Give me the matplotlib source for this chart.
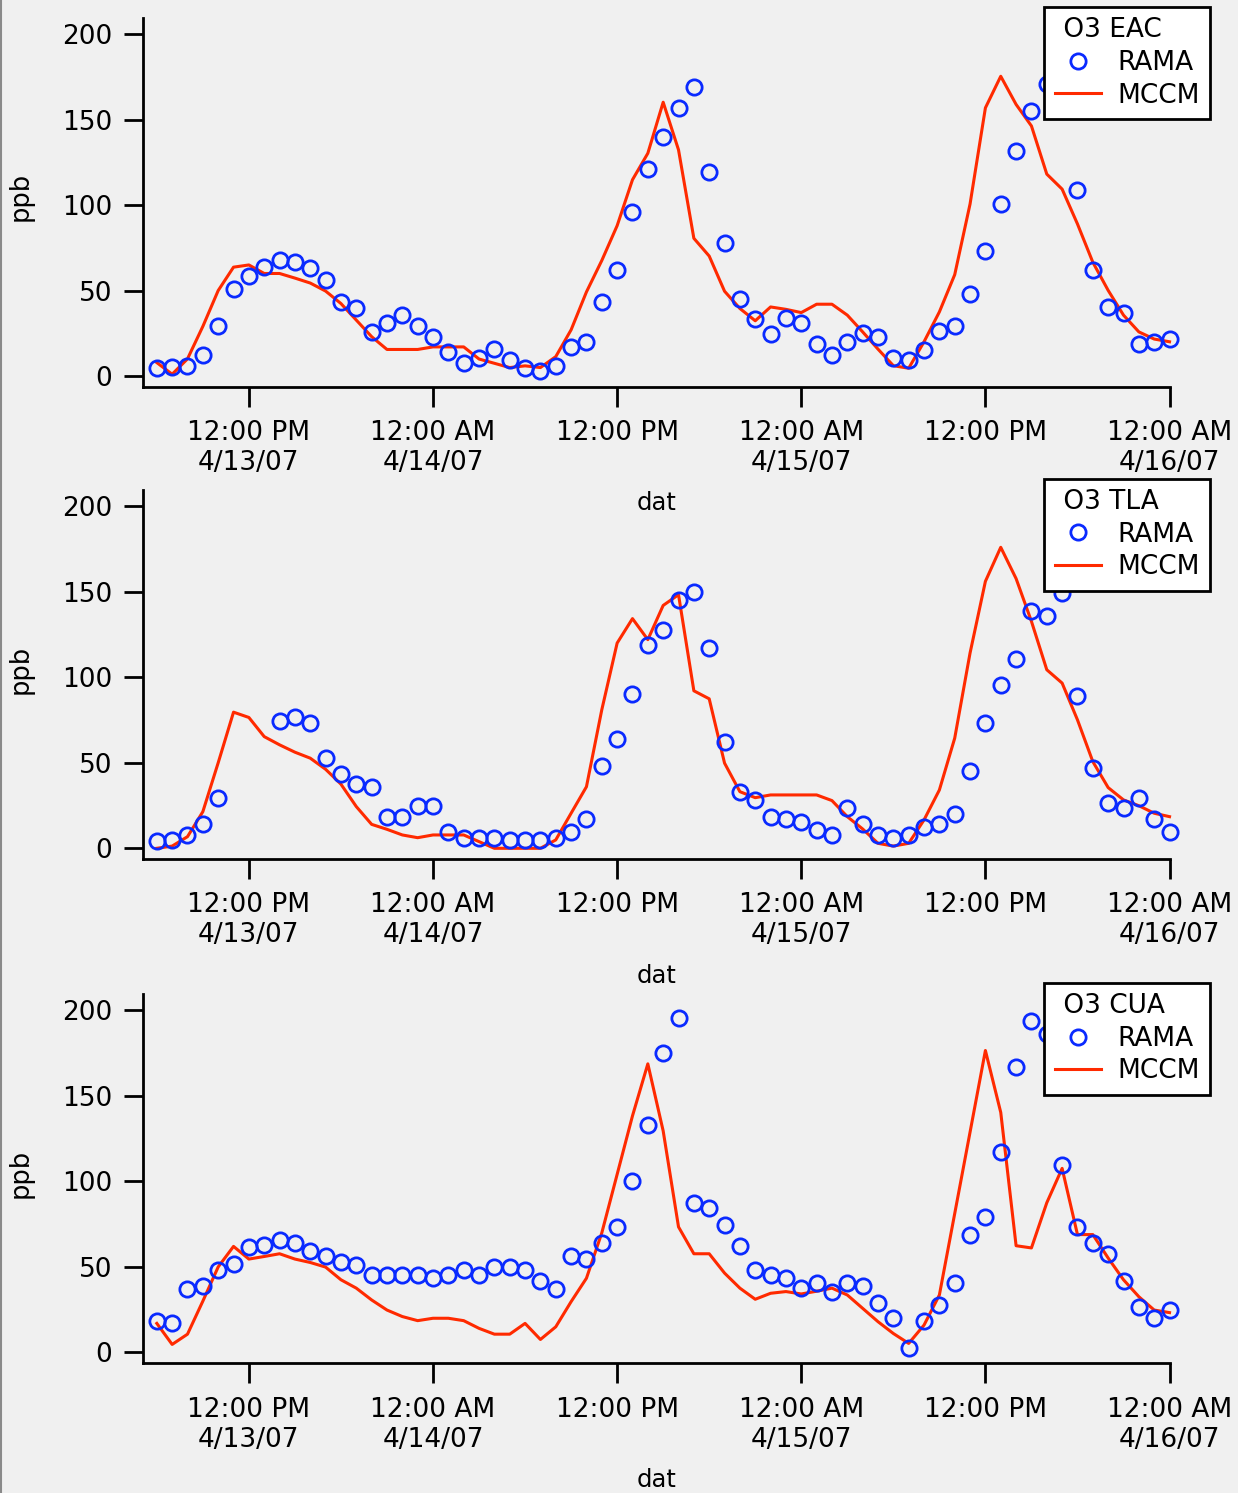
import matplotlib
matplotlib.use('Agg')
import matplotlib.pyplot as plt
import numpy as np
import pandas as pd
from matplotlib.lines import Line2D

# ---------------- data (hourly, 4/13/07 06:00 -> 4/16/07 00:00) ----------------
times = pd.date_range('2007-04-13 06:00', periods=67, freq='h')

eac_rama = [4.5, 5, 6, 12, 29, 51, 58.5, 64, 68, 66.7, 63.5, 56, 43.5, 40, 26, 31, 35.4, 29.3,
            22.9, 13.8, 7.8, 10.3, 15.5, 9.3, 4.9, 3.1, 6, 16.7, 20, 43.3, 62, 96.2, 121, 139.8,
            156.9, 169.3, 119.5, 77.6, 44.9, 33.6, 24.7, 34, 31, 18.6, 12.2, 20, 24.9, 22.9,
            10.7, 9.3, 15.3, 26.2, 29.3, 48, 73, 100.9, 132, 155.3, 170.7, 185, 108.6, 62,
            40.6, 37.1, 18.5, 20, 21.6]
eac_mccm = [7.8, 1, 10, 29, 50, 63.7, 65, 60, 60, 57.3, 54.4, 49.7, 42.4, 32.7, 23, 15.5, 15.5,
            15.5, 17, 17, 17, 9.9, 7.4, 4.9, 5.9, 4.9, 11.3, 27, 49.2, 67.6, 88, 114.9, 130.4,
            160.3, 132.4, 80.6, 70.2, 49.6, 39.5, 32.3, 40.4, 39, 37.1, 42, 42, 35.6, 25.8,
            15.7, 6, 4.5, 20, 37.5, 59.3, 100.7, 157, 175.5, 159, 146.4, 118.2, 109.4, 89,
            66.6, 50.1, 35.6, 25.8, 21.6, 20]

tla_rama = [4.5, 4.9, 7.8, 14, 29.6, np.nan, np.nan, np.nan, 74.7, 76.5, 73.2, 52.7, 43.5,
            37.5, 35.9, 18.3, 18.5, 25, 25, 9.4, 5.9, 6.2, 6.2, 4.9, 4.9, 4.9, 6.2, 9.4, 17.2,
            48.4, 64, 90.5, 118.6, 127.8, 145.2, 149.9, 117.1, 62.4, 32.8, 28.1, 18.5, 17.2,
            15.6, 10.9, 7.8, 23.4, 14, 7.8, 6.2, 7.8, 12.5, 14, 20.3, 45.3, 73.4, 95.2, 110.8,
            138.9, 135.8, 149.3, 89, 46.8, 26.5, 23.4, 29.6, 17.2, 9.4]
tla_mccm = [0, 1.3, 6.8, 21.4, 50, 79.6, 76.5, 65.3, 60.5, 56.2, 52.7, 46.2, 37.5, 24.4, 14,
            11.1, 7.8, 6.2, 7.8, 7.8, 7.8, 3.9, 0, 0, 0, 0, 4.9, 20.5, 36, 81, 120, 134.3, 122,
            142, 148.3, 92.1, 87.4, 49.8, 33.1, 29.6, 31.2, 31.2, 31.2, 31.2, 27.9, 18.5, 11.3,
            2.9, 1.3, 2.9, 16.6, 34.1, 64.4, 114.2, 156.1, 176, 157.7, 132.7, 104.4, 96.6,
            75.1, 50.7, 35.5, 28.3, 24.9, 20.5, 18.5]

cua_rama = [18.6, 17, 37.2, 38.9, 48.3, 51.7, 61.4, 62.6, 65.5, 64, 59.5, 56.1, 52.6, 51.3,
            45.4, 45, 45, 45, 43.4, 45.4, 48.3, 45, 49.9, 49.9, 48.3, 41.9, 37.2, 56.1, 54.6,
            64, 73.4, 100, 132.9, 175.2, 195.5, 87.5, 84.3, 74.8, 62.4, 48.3, 45, 43.8, 37.6,
            40.5, 35.2, 40.5, 38.9, 29.1, 20, 2.7, 18.6, 27.8, 40.5, 68.5, 79.4, 117.4, 167.1,
            193.8, 186.3, 109.6, 73.4, 64, 57.7, 42, 26.4, 20, 24.8]
cua_mccm = [17, 4.7, 10.7, 30, 50, 62, 54.6, 56.1, 57.7, 54.6, 52.6, 49.9, 42.5, 37.6, 30.7,
            24.8, 21, 18.6, 20, 20, 18.6, 14.1, 10.7, 10.7, 17, 7.6, 15, 29.7, 43.4, 69.9,
            104.1, 138.3, 168.7, 129.5, 73.4, 57.7, 57.7, 46.4, 37.6, 31.1, 34.6, 35.6, 34.2,
            35.8, 37.6, 33.6, 25.8, 18, 11.1, 5.3, 16, 33.6, 81.2, 128.8, 176.5, 140.3, 62.4,
            61.1, 87.5, 107.6, 68.9, 68.9, 55.2, 42.5, 32.6, 24.8, 23.3]

stations = ['O3 EAC', 'O3 TLA', 'O3 CUA']
series_names = ['RAMA', 'MCCM']

tick_times = pd.to_datetime(['2007-04-13 12:00', '2007-04-14 00:00', '2007-04-14 12:00',
                             '2007-04-15 00:00', '2007-04-15 12:00', '2007-04-16 00:00'])
tick_labels = ['12:00 PM\n4/13/07', '12:00 AM\n4/14/07', '12:00 PM',
               '12:00 AM\n4/15/07', '12:00 PM', '12:00 AM\n4/16/07']
y_ticks = [0, 50, 100, 150, 200]

# ---------------- style ----------------
BLUE = '#0a2aff'
RED = '#ff2a00'
BG = '#f0f0f0'
plt.rcParams['font.family'] = ['DejaVu Sans']

MS = 11.0
MEW = 2.0
LW = 2.2

fig = plt.figure(figsize=(12.38, 14.93), dpi=100, facecolor=BG)

positions = [[0.1153, 0.7410, 0.8294, 0.2468],
             [0.1153, 0.4246, 0.8294, 0.2472],
             [0.1153, 0.0869, 0.8294, 0.2473]]
data = [(eac_rama, eac_mccm), (tla_rama, tla_mccm), (cua_rama, cua_mccm)]

x_left = pd.Timestamp('2007-04-13 05:05')
x_right = pd.Timestamp('2007-04-16 00:00')

for pos, (rama, mccm), name in zip(positions, data, stations):
    ax = fig.add_axes(pos)
    ax.set_facecolor('none')
    ax.plot(times, mccm, color=RED, lw=LW, clip_on=False, zorder=2)
    ax.plot(times, rama, ls='none', marker='o', mfc='none', mec=BLUE, ms=MS, mew=MEW,
            clip_on=False, zorder=3)
    ax.set_xlim(x_left, x_right)
    ax.set_ylim(-6.3, 209.5)
    for s in ['top', 'right']:
        ax.spines[s].set_visible(False)
    for s in ['left', 'bottom']:
        ax.spines[s].set_linewidth(2.0)
    ax.set_yticks(y_ticks)
    ax.set_xticks(tick_times)
    ax.set_xticklabels(tick_labels)
    ax.tick_params(axis='y', direction='out', length=14, width=2, labelsize=19, pad=8)
    ax.tick_params(axis='x', direction='out', length=14.5, width=2, labelsize=19, pad=9.5)
    ax.minorticks_off()
    ax.set_ylabel('ppb', fontsize=18.5)
    ax.yaxis.set_label_coords(-0.1065, 0.515)
    ax.set_xlabel('dat', fontsize=17.5)
    ax.xaxis.set_label_coords(0.5, -0.283)

    handles = [Line2D([], [], ls='none', marker='o', mfc='none', mec=BLUE, ms=MS, mew=MEW),
               Line2D([], [], color=RED, lw=LW)]
    leg = ax.legend(handles, series_names, title=' ' + name, loc='upper right',
                    bbox_to_anchor=(1.0394, 1.031), bbox_transform=ax.transAxes,
                    borderaxespad=0, fancybox=False, framealpha=1, edgecolor='black',
                    facecolor='white', fontsize=19, title_fontsize=19, handlelength=1.75,
                    handletextpad=0.6, labelspacing=0.25, borderpad=0.4, alignment='left')
    leg.get_frame().set_linewidth(2)
    leg.set_zorder(10)

fig.add_artist(Line2D([0.0008, 0.0008], [0, 1], transform=fig.transFigure,
                      color='#8a8a8a', lw=1.5))

fig.savefig('out.png', dpi=100, facecolor=BG)
